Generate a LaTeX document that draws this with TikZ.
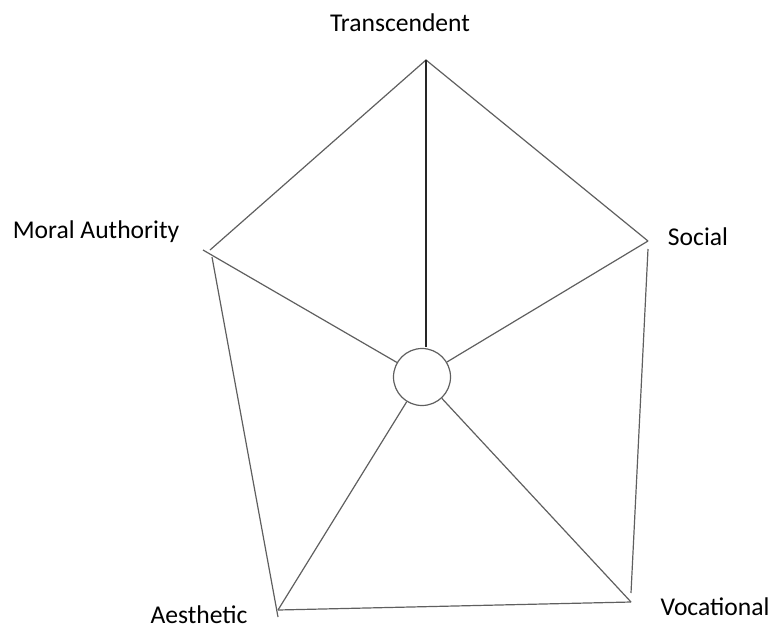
\documentclass[tikz,border=0pt]{standalone}
\usepackage{fontspec}
\setmainfont{Carlito}
\usetikzlibrary{positioning}
\definecolor{edgegray}{RGB}{95,95,95}
\tikzset{
  edge/.style={edgegray, line width=1.2pt},
  spoke/.style={edgegray, line width=1.2pt},
  dimlabel/.style={font=\fontsize{25.6}{30}\selectfont, inner sep=0pt, anchor=base},
}

\begin{document}
\begin{tikzpicture}[x=1pt, y=-1pt]
\useasboundingbox (0,0) rectangle (771,630);
% --- Corners of the pentagon ---
\coordinate (trans) at (426,60);
\coordinate (soc) at (648,241);
\coordinate (voc) at (631,602);
\coordinate (aes) at (278,610);
\coordinate (mor) at (210,250);
% --- Hub ---
\node[circle, draw=edgegray, line width=1.2pt, minimum size=57pt, inner sep=0pt] (hub) at (422,377) {};
% --- Labels ---
\node[dimlabel] (ltrans) at (400,31) {Transcendent};
\node[dimlabel] (lsoc) at (698,245) {Social};
\node[dimlabel] (lvoc) at (715,615) {Vocational};
\node[dimlabel] (laes) at (199,623) {Aesthetic};
\node[dimlabel] (lmor) at (96,238) {Moral Authority};
% --- Outer edges ---
\draw[edge] (mor) -- (trans) -- (soc);
\draw[edge] ([yshift=-8pt]soc) -- ([yshift=9pt]voc);
\draw[edge] (voc) -- (aes);
\draw[edge] ([yshift=-7pt]aes) -- ([xshift=2pt,yshift=-7pt]mor);
% --- Spokes ---
\draw[black!85, line width=1.1pt] ([yshift=1pt]trans |- hub.north) -- (trans);
\foreach \c in {soc,voc,aes}
  \draw[spoke] (hub) -- (\c);
\draw[spoke] (hub) -- ([xshift=-7pt]mor);
\end{tikzpicture}
\end{document}
